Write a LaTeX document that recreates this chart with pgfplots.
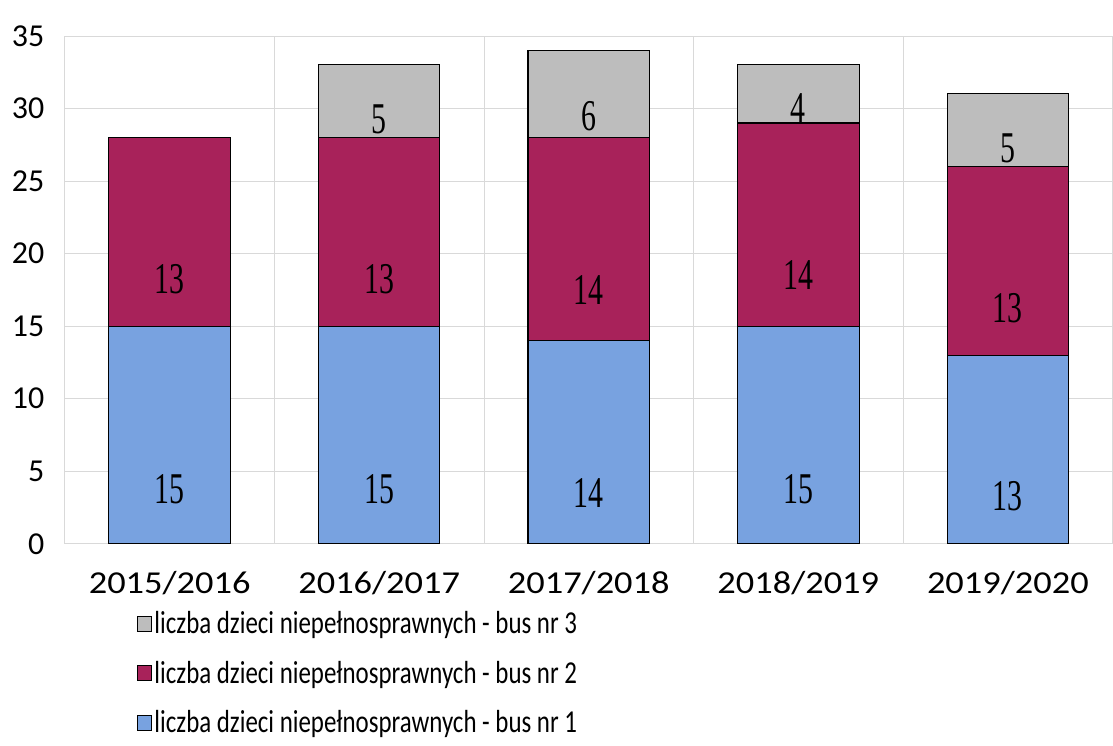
\documentclass[border=0pt]{standalone}
\usepackage{pgfplots}
\pgfplotsset{compat=1.18}
\usepackage{fontspec}
\setmainfont{Carlito}
\newfontfamily\legfont[FakeStretch=0.78]{Carlito}
\newfontfamily\xtfont[FakeStretch=1.14]{Carlito}
\newfontfamily\labfont[FakeStretch=0.68]{Liberation Serif}
\definecolor{busA}{HTML}{78A2E0}
\definecolor{busB}{HTML}{A8225A}
\definecolor{busC}{HTML}{BDBDBD}
\begin{document}
\begin{tikzpicture}
\begin{axis}[
  scale only axis,
  width=787.5pt, height=381.75pt,
  ybar stacked,
  bar width=0.58,
  xmin=-0.5, xmax=4.5,
  ymin=0, ymax=35,
  ytick={0,5,...,35},
  xtick={0,1,2,3,4},
  xticklabels={2015/2016,2016/2017,2017/2018,2018/2019,2019/2020},
  minor xtick={-0.5,0.5,1.5,2.5,3.5,4.5},
  xminorgrids, ymajorgrids,
  grid style={gray!30, line width=0.6pt},
  minor grid style={gray!30, line width=0.6pt},
  axis line style={draw=none},
  major tick length=0pt, minor tick length=0pt,
  yticklabel style={font=\fontsize{24pt}{28pt}\selectfont, xshift=-12pt},
  xticklabel style={font=\xtfont\fontsize{24pt}{28pt}\selectfont, yshift=-17pt},
  /pgf/number format/assume math mode=true,
  clip=false,
  reverse legend,
  legend cell align=left,
  legend style={at={(0.0686,-0.128)}, anchor=north west, draw=none, fill=none,
    font=\legfont\fontsize{24pt}{28pt}\selectfont, row sep=15pt, inner sep=0pt},
  legend image code/.code={\draw[#1,draw=black,line width=0.6pt] (0cm,-0.2cm) rectangle (0.37cm,0.2cm);},
  visualization depends on=rawy \as \rawy,
  point meta=rawy,
  nodes near coords={\pgfmathfloatifflags{\pgfplotspointmeta}{0}{}{\pgfmathprintnumber{\pgfplotspointmeta}}},
  every node near coord/.append style={font=\labfont\fontsize{33pt}{36pt}\selectfont, anchor=center, text=black,
    shift={(axis direction cs:0,-0.25*\rawy)}},
]
\addplot[fill=busA, draw=black, line width=0.8pt] coordinates {(0,15) (1,15) (2,14) (3,15) (4,13)};
\addlegendentry{liczba dzieci niepełnosprawnych - bus nr 1}
\addplot[fill=busB, draw=black, line width=0.8pt] coordinates {(0,13) (1,13) (2,14) (3,14) (4,13)};
\addlegendentry{liczba dzieci niepełnosprawnych - bus nr 2}
\addplot[fill=busC, draw=black, line width=0.8pt] coordinates {(0,0) (1,5) (2,6) (3,4) (4,5)};
\addlegendentry{liczba dzieci niepełnosprawnych - bus nr 3}
\path (rel axis cs:-0.0619,-0.397) rectangle (rel axis cs:0.998,1.0707);
\end{axis}
\end{tikzpicture}
\end{document}
